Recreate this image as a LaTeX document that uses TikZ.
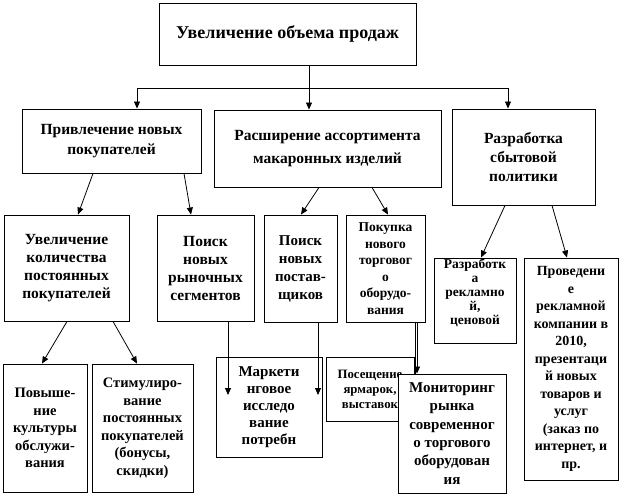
\documentclass[tikz,border=0pt]{standalone}
\usepackage{fontspec}
\setmainfont{Liberation Serif}
\usetikzlibrary{arrows.meta}
\newcommand{\fs}[2]{\fontsize{#1}{#2}\selectfont\bfseries}
\begin{document}
\begin{tikzpicture}[x=1pt,y=-1pt,
  box/.style={draw,fill=white,line width=0.9pt,inner sep=0pt,align=center,rectangle},
  txt/.style={inner sep=0pt,align=center},
  arr/.style={line width=0.8pt,-{Triangle[width=6pt,length=7pt]}},
  ln/.style={line width=0.8pt}]
\useasboundingbox[fill=white] (0,0) rectangle (622,496);
% level 1
\node[box,minimum width=257,minimum height=62,font=\fs{18}{20}] (top) at (287.5,34) {Увеличение объема продаж};
% level 2
\node[box,minimum width=179,minimum height=64,font=\fs{15.5}{20}] (A) at (111.5,141) {Привлечение новых\\покупателей};
\node[box,minimum width=227,minimum height=77,font=\fs{15.5}{23}] (B) at (327.5,148.5) {Расширение ассортимента\\макаронных изделий};
\node[box,minimum width=143,minimum height=96,font=\fs{15.5}{19}] (C) at (523.5,157) {Разработка\\сбытовой\\политики};
% level 3
\node[box,minimum width=125,minimum height=106,font=\fs{15.5}{18}] (D) at (66.5,268) {Увеличение\\количества\\постоянных\\покупателей};
\node[box,minimum width=97,minimum height=106,font=\fs{15.5}{18}] (E) at (205.5,268) {Поиск\\новых\\рыночных\\сегментов};
\node[box,minimum width=73,minimum height=107,font=\fs{15}{18}] (F) at (300.5,268.5) {Поиск\\новых\\постав-\\щиков};
\node[box,minimum width=79,minimum height=107,font=\fs{13.5}{16.5}] (G) at (385.5,268.5) {Покупка\\нового\\торговог\\о\\оборудо-\\вания};
\node[box,minimum width=82,minimum height=85] (H) at (475,300.5) {};
\node[txt,font=\fs{13.5}{14}] (Ht) at (475,292.5) {Разработк\\а\\рекламно\\й,\\ценовой};
\node[box,minimum width=94,minimum height=222,font=\fs{14}{17.5}] (I) at (571,369) {Проведени\\е\\рекламной\\компании в\\2010,\\презентаци\\й новых\\товаров и\\услуг\\(заказ по\\интернет, и\\пр.};
% level 4
\node[box,minimum width=84,minimum height=128,font=\fs{14.5}{17.5}] (J) at (45,428) {Повыше-\\ние\\культуры\\обслужи-\\вания};
\node[box,minimum width=101,minimum height=128,font=\fs{14.5}{17.5}] (K) at (142.5,428) {Стимулиро-\\вание\\постоянных\\покупателей\\(бонусы,\\скидки)};
\node[box,minimum width=106,minimum height=100,font=\fs{15}{17}] (L) at (269,407) {Маркети\\нговое\\исследо\\вание\\потребн};
\node[box,minimum width=88,minimum height=64,font=\fs{12.8}{15}] (M) at (370,389) {Посещение\\ярмарок,\\выставок};
\node[box,minimum width=108,minimum height=119,font=\fs{15}{18.3}] (N) at (452,433.5) {Мониторинг\\рынка\\современног\\о торгового\\оборудован\\ия};
% connectors level 1 -> 2
\coordinate (busL) at (137,88);
\coordinate (busR) at (508,88);
\draw[ln] (busL) -- (busR);
\draw[ln] ([xshift=21.5]top.south) -- ([xshift=21.5]top.south |- busL);
\draw[arr] (busL) -- (busL |- A.north);
\draw[arr] ([xshift=21.5]top.south |- busL) -- ([xshift=21.5]top.south |- B.north);
\draw[arr] (busR) -- (busR |- C.north);
% level 2 -> 3
\draw[arr] ([xshift=-18.5]A.south) -- ([xshift=11.5]D.north);
\draw[arr] ([xshift=72.5]A.south) -- ([xshift=-14.5]E.north);
\draw[arr] ([xshift=-8.5]B.south) -- ([xshift=0.5]F.north);
\draw[arr] ([xshift=44.5]B.south) -- ([xshift=2.5]G.north);
\draw[arr] ([xshift=-18.5]C.south) -- ([xshift=6]H.north);
\draw[arr] ([xshift=28.5]C.south) -- ([xshift=-4]I.north);
% level 3 -> 4
\draw[arr] ([xshift=0.5]D.south) -- ([xshift=-3]J.north);
\draw[arr] ([xshift=46.5]D.south) -- ([xshift=-5.5]K.north);
\coordinate (mk) at (269,395);
\draw[arr] ([xshift=22.5]E.south) -- ([xshift=22.5]E.south |- mk);
\draw[arr] ([xshift=17.5]F.south) -- ([xshift=17.5]F.south |- mk);
\draw[arr] ([xshift=31.5]G.south) -- ([xshift=31.5]G.south |- N.north);
\draw[ln] ([xshift=29.5]G.south) -- ([xshift=29.5]G.south |- N.north);
\end{tikzpicture}
\end{document}
